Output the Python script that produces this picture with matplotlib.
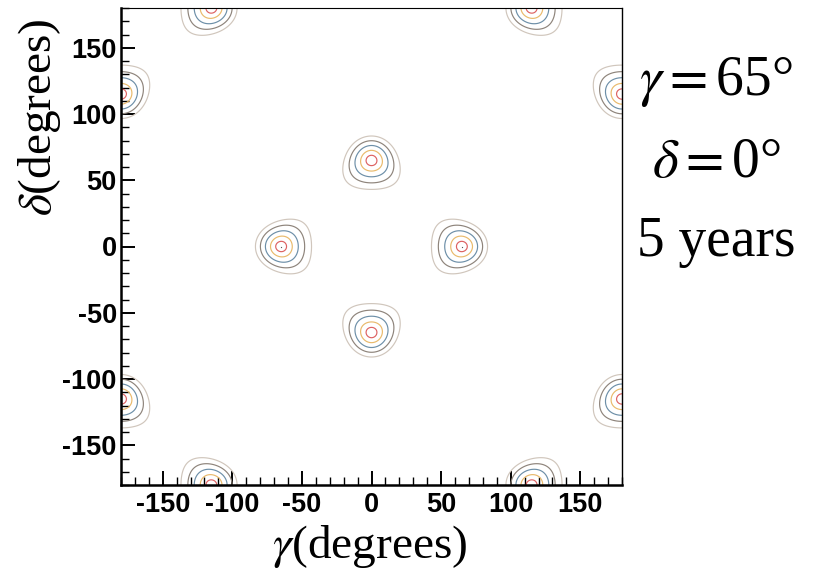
import numpy as np
import matplotlib
matplotlib.use("Agg")
import matplotlib.pyplot as plt

# ---- model / data ----
gamma_true = 65.0          # degrees
delta_true = 0.0           # degrees
sigma = 0.087              # resolution on the cos observables
levels = [1, 4, 9, 16, 25] # delta chi^2 levels
level_colors = ["#dd6262", "#e9ba6c", "#6d8fa8", "#8e847b", "#d0c6bc"]
true_points_g = [65, -65]
true_points_d = [0, 0]
xticks = [-150, -100, -50, 0, 50, 100, 150]
yticks = [-150, -100, -50, 0, 50, 100, 150]
info_lines = [r"$\gamma{=}$65°", r"$\delta{=}$0°", "5 years"]

plt.rcParams["mathtext.fontset"] = "stix"
plt.rcParams["axes.unicode_minus"] = False

g = np.linspace(-180, 180, 901)
d = np.linspace(-180, 180, 901)
G, D = np.meshgrid(g, d)
c = np.cos(np.radians(gamma_true)) * np.cos(np.radians(delta_true))
obs_p = np.cos(np.radians(G + D))
obs_m = np.cos(np.radians(G - D))
chi2 = ((obs_p - c) ** 2 + (obs_m - c) ** 2) / sigma ** 2

fig = plt.figure(figsize=(8.17, 5.70), dpi=100)
ax = fig.add_axes([121 / 817, 1 - 485 / 570, (622 - 121) / 817, (485 - 8) / 570])
ax.contour(G, D, chi2, levels=levels, colors=level_colors, linewidths=0.85)
ax.plot(true_points_g, true_points_d, ls="none", marker="o", ms=0.9,
        mew=0, color="#555555")

ax.set_xlim(-180, 180)
ax.set_ylim(-180, 180)
ax.set_xticks(xticks)
ax.set_yticks(yticks)
ax.set_xticks(np.arange(-180, 181, 10), minor=True)
ax.set_yticks(np.arange(-180, 181, 10), minor=True)
ax.tick_params(which="both", direction="in", top=False, right=False)
ax.tick_params(which="major", length=10, width=1.4)
ax.tick_params(which="minor", length=5.5, width=1.0)
for lab in ax.get_xticklabels() + ax.get_yticklabels():
    lab.set_fontfamily("Liberation Sans")
    lab.set_fontweight("bold")
    lab.set_fontsize(19.5)
ax.tick_params(axis="x", pad=5)
ax.tick_params(axis="y", pad=3)
ax.spines["left"].set_linewidth(1.8)
ax.spines["bottom"].set_linewidth(1.8)
ax.spines["top"].set_linewidth(0.8)
ax.spines["right"].set_linewidth(1.0)

fig.text(370 / 817, 1 - 546 / 570, r"$\gamma$(degrees)", ha="center", va="center",
         fontsize=34, family="Liberation Serif")
fig.text(40 / 817, 1 - 117 / 570, r"$\delta$(degrees)", ha="center", va="center",
         rotation=90, fontsize=34, family="Liberation Serif")

ys = [82, 163, 242]
for t, y in zip(info_lines, ys):
    fig.text(716 / 817, 1 - y / 570, t, ha="center", va="center",
             fontsize=40, family="Liberation Serif")

fig.savefig("out.png", dpi=100, facecolor="white")
